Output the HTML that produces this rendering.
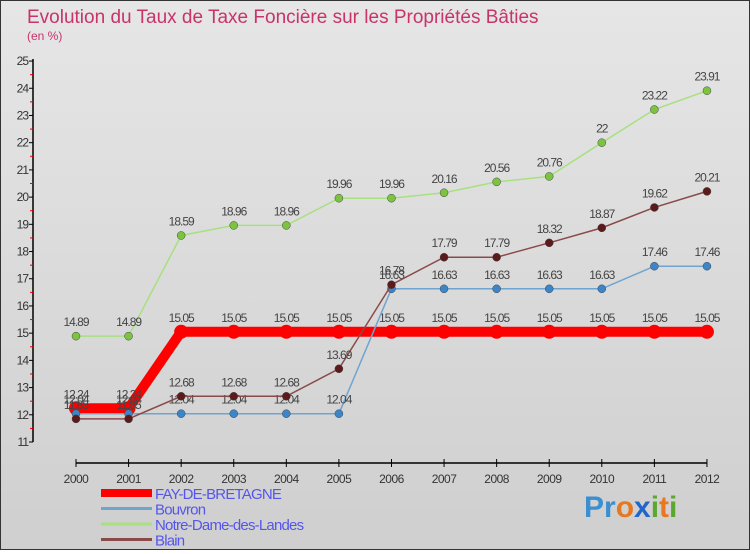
<!DOCTYPE html>
<html><head><meta charset="utf-8"><style>
body{margin:0;width:750px;height:550px;overflow:hidden;font-family:"Liberation Sans",sans-serif}
#wrap{position:relative;width:748px;height:548px;border:1px solid #333;background:linear-gradient(#e6e6e6,#cfcfcf)}
</style></head><body>
<div id="wrap">
<svg id="chart" width="748" height="548" font-family="Liberation Sans, sans-serif">
<text x="26" y="22" font-size="19" fill="#c8336a">Evolution du Taux de Taxe Foncière sur les Propriétés Bâties</text>
<text x="26" y="39" font-size="12" fill="#c8336a">(en %)</text>
<g id="axes"></g><g id="series"></g><g id="legend"></g>
<text x="583" y="516" font-size="30" font-weight="bold"><tspan fill="#3a8fd0">Pr</tspan><tspan fill="#e87820">o</tspan><tspan fill="#2266cc">x</tspan><tspan fill="#5aa830">i</tspan><tspan fill="#e87820">t</tspan><tspan fill="#5aa830">i</tspan></text>
</svg></div>
<script>
const years=[2000,2001,2002,2003,2004,2005,2006,2007,2008,2009,2010,2011,2012];
const fay=[12.24,12.24,15.05,15.05,15.05,15.05,15.05,15.05,15.05,15.05,15.05,15.05,15.05];
const bouvron=[12.04,12.04,12.04,12.04,12.04,12.04,16.63,16.63,16.63,16.63,16.63,17.46,17.46];
const notreDame=[14.89,14.89,18.59,18.96,18.96,19.96,19.96,20.16,20.56,20.76,22,23.22,23.91];
const blain=[11.85,11.85,12.68,12.68,12.68,13.69,16.78,17.79,17.79,18.32,18.87,19.62,20.21];
const yTicks=[11,12,13,14,15,16,17,18,19,20,21,22,23,24,25];
const NS="http://www.w3.org/2000/svg";
const x=i=>75+i*52.58, y=v=>441-(v-11)*27.21;
function mk(t,a,p){const e=document.createElementNS(NS,t);for(const k in a)e.setAttribute(k,a[k]);p.appendChild(e);return e;}
const ax=document.getElementById('axes');
let l=mk('line',{x1:32,y1:y(25)-2,x2:32,y2:y(11),stroke:'#000','stroke-width':1.5},ax);

l=mk('line',{x1:75,y1:462,x2:x(12),y2:462,stroke:'#000','stroke-width':1.5},ax);

yTicks.forEach(v=>{mk('line',{x1:28,y1:y(v),x2:32,y2:y(v),stroke:'#000'},ax);
 if(v<25)mk('line',{x1:29,y1:y(v+0.5),x2:32,y2:y(v+0.5),stroke:'#e00'},ax);
 const t=mk('text',{x:27,y:y(v)+4,'font-size':12,'text-anchor':'end',fill:'#333','letter-spacing':'-1'},ax);t.textContent=v;
 });
years.forEach((yr,i)=>{mk('line',{x1:x(i),y1:458,x2:x(i),y2:466,stroke:'#000'},ax);
 const t=mk('text',{x:x(i),y:482,'font-size':12,'text-anchor':'middle',fill:'#333','letter-spacing':'-0.5'},ax);t.textContent=yr;
 });
const S=[['fay',fay,'#ff0000','#ff0000',10,7,'fay-de-bretagne'],['bouvron',bouvron,'#6fa4d0','#3a86c8',1.5,4,'bouvron'],['nd',notreDame,'#a8e080','#7cc440',1.5,4,'notre-dame-des-landes'],['blain',blain,'#8a4a4a','#5c1a1a',1.5,4,'blain']];
const sg=document.getElementById('series');
S.forEach(s=>{const g=mk('g',{},sg);
 const p=mk('polyline',{points:s[1].map((v,i)=>x(i)+','+y(v)).join(' '),fill:'none',stroke:s[2],'stroke-width':s[4]},g);
 
 s[1].forEach((v,i)=>{const c=mk('circle',{cx:x(i),cy:y(v),r:s[5],fill:s[3],stroke:'#444','stroke-width':s[0]=='fay'?0:0.5},g);
  
  const t=mk('text',{x:x(i),y:y(v)-10,'font-size':12,'text-anchor':'middle',fill:'#444','letter-spacing':'-1'},g);t.textContent=v;
  });});
const lg=document.getElementById('legend');
[['FAY-DE-BRETAGNE','#ff0000',8],['Bouvron','#6fa4d0',3],['Notre-Dame-des-Landes','#a8e080',3],['Blain','#8a4a4a',3]].forEach((e,i)=>{
 const yy=492+i*15.5;const g=mk('g',{},lg);
 mk('line',{x1:100,y1:yy,x2:151,y2:yy,stroke:e[1],'stroke-width':e[2]},g);
 const t=mk('text',{x:154,y:yy+6,'font-size':15,fill:'#5555ee','letter-spacing':'-0.8'},g);t.textContent=e[0];});
</script></body></html>
